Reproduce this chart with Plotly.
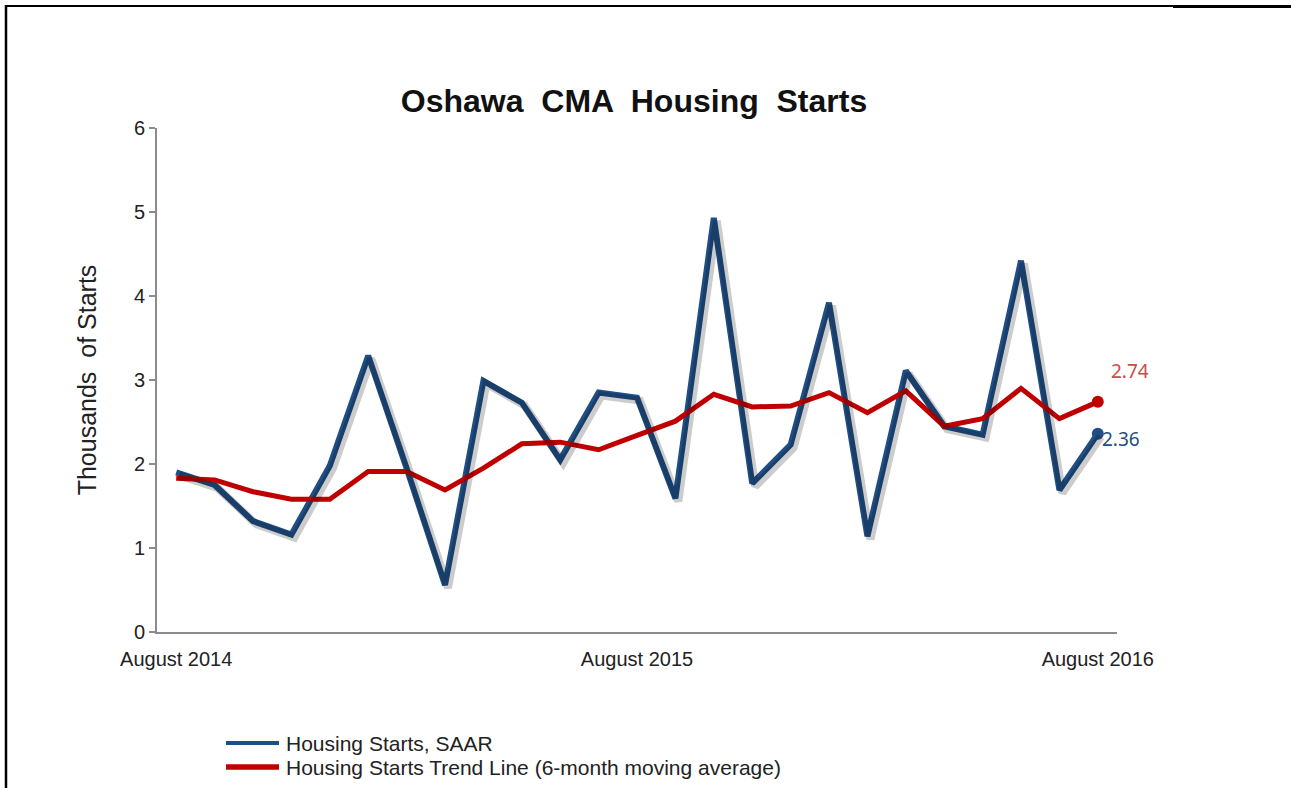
import plotly.graph_objects as go

months = ["Aug 2014", "Sep 2014", "Oct 2014", "Nov 2014", "Dec 2014", "Jan 2015",
          "Feb 2015", "Mar 2015", "Apr 2015", "May 2015", "Jun 2015", "Jul 2015",
          "Aug 2015", "Sep 2015", "Oct 2015", "Nov 2015", "Dec 2015", "Jan 2016",
          "Feb 2016", "Mar 2016", "Apr 2016", "May 2016", "Jun 2016", "Jul 2016",
          "Aug 2016"]
starts_saar = [1.90, 1.75, 1.32, 1.16, 1.98, 3.29, 1.95, 0.56, 2.99, 2.73, 2.05, 2.85,
               2.79, 1.59, 4.93, 1.77, 2.23, 3.92, 1.14, 3.11, 2.45, 2.35, 4.42, 1.69,
               2.36]
trend_6m = [1.83, 1.81, 1.67, 1.58, 1.58, 1.91, 1.91, 1.69, 1.95, 2.24, 2.26, 2.17,
            2.34, 2.51, 2.83, 2.68, 2.69, 2.85, 2.61, 2.87, 2.45, 2.54, 2.90, 2.54,
            2.74]
tick_vals = ["Aug 2014", "Aug 2015", "Aug 2016"]
tick_text = ["August 2014", "August 2015", "August 2016"]
series_names = ["Housing Starts, SAAR",
                "Housing Starts Trend Line (6-month moving average)"]

BLUE = "#1F4E84"
RED = "#C00000"
FONT = "Liberation Sans, Arial, sans-serif"

# plot area geometry (pixels)
L, R, T, B = 157, 174, 128, 156
W, H = 1291, 788
pw, ph = W - L - R, H - T - B


def xp(px):
    return (px - L) / pw


def yp(py):
    return (H - B - py) / ph


fig = go.Figure()

# soft shadow under the blue series (same data, slightly offset axes)
n = len(months)
dx = 3 / (pw / n)
dy = 3 / (ph / 6)
fig.add_trace(go.Scatter(x=months, y=starts_saar, mode="lines", xaxis="x2", yaxis="y2",
                         line=dict(color="rgba(0,0,0,0.20)", width=8),
                         showlegend=False, hoverinfo="skip"))

fig.add_trace(go.Scatter(x=months, y=starts_saar, mode="lines",
                         name=series_names[0], showlegend=False,
                         line=dict(color=BLUE, width=6)))
fig.add_trace(go.Scatter(x=months, y=trend_6m, mode="lines",
                         name=series_names[1], showlegend=False,
                         line=dict(color=RED, width=5)))
# end markers
fig.add_trace(go.Scatter(x=[months[-1]], y=[starts_saar[-1]], mode="markers",
                         marker=dict(color=BLUE, size=12), showlegend=False))
fig.add_trace(go.Scatter(x=[months[-1]], y=[trend_6m[-1]], mode="markers",
                         marker=dict(color=RED, size=12), showlegend=False))

fig.add_annotation(x=months[-1], y=trend_6m[-1], text=f"{trend_6m[-1]:.2f}",
                   showarrow=False, xshift=32, yshift=31,
                   font=dict(family="Noto Sans, sans-serif", size=19, color="#D04848"))
fig.add_annotation(x=months[-1], y=starts_saar[-1], text=f"{starts_saar[-1]:.2f}",
                   showarrow=False, xshift=23, yshift=-5,
                   font=dict(family="Noto Sans, sans-serif", size=19, color=BLUE))

# legend (drawn to match the original's compact layout)
for i, (name, col, lw) in enumerate(zip(series_names, [BLUE, RED], [4, 5.5])):
    yy = 743 + 24 * i
    fig.add_shape(type="line", xref="paper", yref="paper",
                  x0=xp(226), x1=xp(279), y0=yp(yy), y1=yp(yy),
                  line=dict(color=col, width=lw))
    fig.add_annotation(xref="paper", yref="paper", x=xp(284), y=yp(yy),
                       xanchor="left", yanchor="middle", text=name, showarrow=False,
                       font=dict(family=FONT, size=21, color="#222222"))

# frame lines of the original picture
fig.add_shape(type="line", xref="paper", yref="paper",
              x0=xp(6), x1=xp(6), y0=yp(5), y1=yp(790),
              line=dict(color="black", width=2.5))
fig.add_shape(type="line", xref="paper", yref="paper",
              x0=xp(5), x1=xp(1173), y0=yp(6), y1=yp(6),
              line=dict(color="black", width=2))
fig.add_shape(type="line", xref="paper", yref="paper",
              x0=xp(1173), x1=xp(1291), y0=yp(6.5), y1=yp(6.5),
              line=dict(color="black", width=3))

fig.update_layout(
    width=W, height=H,
    margin=dict(l=L, r=R, t=T, b=B, autoexpand=False),
    paper_bgcolor="white", plot_bgcolor="white",
    font=dict(family=FONT, size=20, color="#222222"),
    title=dict(text="<b>Oshawa  CMA  Housing  Starts</b>",
               x=xp(634), xref="paper", xanchor="center",
               y=1 - 101 / H, yref="container", yanchor="middle",
               font=dict(family=FONT, size=32, color="#111111")),
    xaxis=dict(type="category", categoryorder="array", categoryarray=months,
               range=[-0.5, n - 0.5], tickmode="array", tickvals=tick_vals,
               ticktext=tick_text, showgrid=False, zeroline=False,
               showline=True, linecolor="#8C8C8C", linewidth=2,
               ticks="outside", ticklen=8, tickcolor="rgba(0,0,0,0)",
               tickfont=dict(size=20, color="#222222")),
    yaxis=dict(range=[0, 6], dtick=1, showgrid=False, zeroline=False,
               showline=True, linecolor="#8C8C8C", linewidth=2,
               ticks="outside", ticklen=6, tickcolor="#8C8C8C", tickwidth=1.5,
               tickfont=dict(size=20, color="#222222"),
               title=dict(text="Thousands  of Starts", standoff=30,
                          font=dict(size=25, color="#222222"))),
    xaxis2=dict(type="category", categoryorder="array", categoryarray=months,
                range=[-0.5 - dx, n - 0.5 - dx], overlaying="x", visible=False),
    yaxis2=dict(range=[dy, 6 + dy], overlaying="y", visible=False),
    showlegend=False,
)

fig.write_html("out.html")
